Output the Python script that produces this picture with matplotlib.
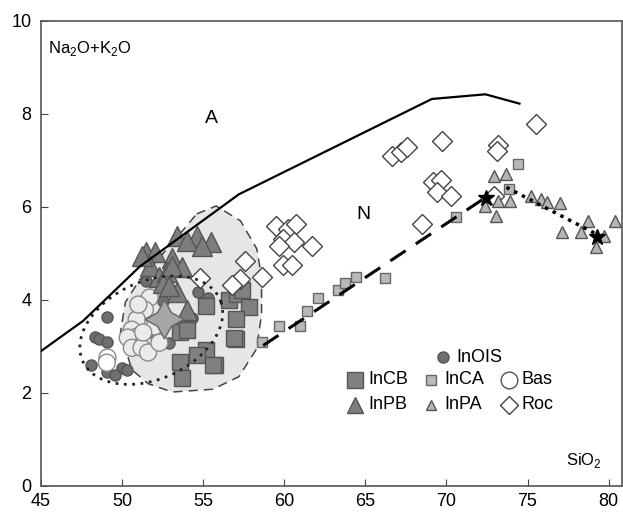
import numpy as np
import matplotlib
matplotlib.use("Agg")
import matplotlib.pyplot as plt
from matplotlib.patches import Polygon

plt.rcParams['font.family'] = ['Liberation Sans', 'DejaVu Sans']

# alkaline / subalkaline boundary
bound_x = [45.0, 47.6, 51.1, 57.2, 69.1, 72.4, 74.5]
bound_y = [2.9, 3.55, 4.72, 6.27, 8.32, 8.42, 8.22]

# InCA trend (dashed) and InPA trend (dotted)
inca_line_x = [58.7, 72.4]
inca_line_y = [3.02, 6.2]
inpa_line_x = [73.7, 79.6]
inpa_line_y = [6.42, 5.35]

# basic field outline (dashed grey area)
field_x = [54.6, 55.8, 57.3, 58.3, 58.6, 58.6, 58.3, 57.2, 55.6, 53.1, 51.6,
           50.6, 49.9, 50.2, 51.1, 52.4, 54.0]
field_y = [5.85, 6.02, 5.7, 5.1, 4.5, 3.7, 2.95, 2.35, 2.08, 2.02, 2.2,
           2.5, 3.3, 3.95, 4.44, 4.95, 5.6]

# InOIS
inois_x = [49.1, 48.3, 48.6, 49.1, 48.1, 49.06, 50.0, 50.3, 49.55, 51.5, 52.75,
           52.6, 54.66, 55.27, 54.29, 53.98, 53.55, 52.9, 51.8, 52.5]
inois_y = [3.64, 3.21, 3.15, 3.1, 2.6, 2.46, 2.54, 2.5, 2.39, 4.4, 4.22,
           4.44, 4.16, 4.05, 3.62, 3.47, 3.5, 3.08, 3.32, 3.97]

# Bas
bas_x = [51.7, 51.4, 50.9, 50.6, 50.9, 50.35, 50.6, 51.2, 51.6, 49.1, 49.06,
         52.0, 52.3, 51.0, 51.3]
bas_y = [4.05, 3.79, 3.58, 3.36, 3.21, 3.19, 2.97, 2.97, 2.87, 2.76, 2.65,
         3.43, 3.08, 3.9, 3.3]
bas_white = [9, 10]

# InPB
inpb_x = [51.5, 52.0, 53.36, 54.6, 55.5, 54.0, 54.9, 53.1, 53.7, 51.7, 52.3,
          52.75, 53.4, 54.0, 51.2, 52.5, 52.9, 53.1]
inpb_y = [5.02, 5.04, 5.37, 5.37, 5.24, 5.26, 5.15, 4.91, 4.7, 4.72, 4.5,
          4.59, 4.16, 3.79, 4.94, 4.37, 4.29, 4.72]

# InCB
incb_x = [56.6, 57.1, 57.85, 57.05, 57.05, 55.2, 53.55, 55.2, 54.6, 55.7,
          53.55, 53.67, 57.4, 54.0, 56.9, 55.6]
incb_y = [4.0, 4.12, 3.84, 3.58, 3.15, 3.86, 3.3, 2.93, 2.82, 2.61,
          2.67, 2.33, 4.22, 3.36, 3.19, 2.61]

# InCA
inca_x = [58.65, 59.7, 61.0, 61.4, 62.1, 63.3, 63.75, 64.4, 66.2, 70.6,
          74.4, 73.85]
inca_y = [3.1, 3.45, 3.45, 3.77, 4.05, 4.22, 4.37, 4.5, 4.48, 5.78,
          6.92, 6.38]

# InPA
inpa_x = [72.9, 73.66, 73.2, 73.9, 72.4, 73.05, 75.2, 75.8, 76.2, 77.0, 77.1,
          78.3, 78.7, 79.25, 79.7, 80.4]
inpa_y = [6.66, 6.7, 6.12, 6.12, 6.01, 5.8, 6.23, 6.16, 6.1, 6.08, 5.47,
          5.45, 5.69, 5.13, 5.37, 5.69]

# Roc
roc_x = [66.65, 67.2, 67.57, 69.7, 73.2, 73.1, 75.5, 69.2, 69.65, 69.4, 70.3,
         68.5, 72.9, 59.5, 60.2, 60.75, 59.9, 60.6, 59.7, 61.7, 59.9, 60.5,
         57.55, 57.24, 54.8, 56.75, 58.65]
roc_y = [7.09, 7.18, 7.28, 7.41, 7.33, 7.2, 7.78, 6.53, 6.57, 6.31, 6.23,
         5.63, 6.23, 5.58, 5.52, 5.63, 5.3, 5.24, 5.15, 5.15, 4.76, 4.76,
         4.83, 4.44, 4.48, 4.33, 4.5]

# stars
star_gray = (52.6, 3.58)
star_black_x = [72.43, 79.3]
star_black_y = [6.19, 5.35]

fig = plt.figure(figsize=(6.23, 5.14), dpi=100)
ax = fig.add_axes([0.0658, 0.0545, 0.932, 0.905])

ax.add_patch(Polygon(np.column_stack([field_x, field_y]), closed=True,
                     facecolor='#e6e6e6', edgecolor='#444444',
                     linestyle=(0, (6, 4)), linewidth=1.1, zorder=1))

# dotted ellipse
t = np.linspace(0, 2 * np.pi, 200)
ex = 51.8 + 4.3 * np.cos(t) - 0.95 * np.sin(t)
ey = 3.35 + 0.6 * np.cos(t) + 1.0 * np.sin(t)
ax.plot(ex, ey, color='#222222', linestyle=(0, (1, 2)), linewidth=2, zorder=6)

dk = '#555555'
ax.plot(inois_x, inois_y, 'o', ms=8, mfc='#6f6f6f', mec=dk, mew=1, zorder=3)
bas_c = ['#ffffff' if i in bas_white else '#ebebeb' for i in range(len(bas_x))]
ax.scatter(bas_x, bas_y, s=150, c=bas_c, edgecolors='#8a8a8a', linewidths=1, zorder=3)
ax.plot(incb_x, incb_y, 's', ms=12, mfc='#808080', mec=dk, mew=1, zorder=3)
ax.plot(inpb_x, inpb_y, '^', ms=14, mfc='#7d7d7d', mec=dk, mew=1, zorder=4)
ax.plot(roc_x, roc_y, 'D', ms=10, mfc='white', mec='#444444', mew=1, zorder=4)
ax.plot(inca_x, inca_y, 's', ms=7, mfc='#b8b8b8', mec='#666666', mew=1, zorder=4)
ax.plot(inpa_x, inpa_y, '^', ms=9, mfc='#b5b5b5', mec='#555555', mew=1, zorder=4)
ax.plot(*star_gray, marker=(4, 1, 0), ms=28, mfc='#a6a6a6', mec='#666666', mew=1, zorder=5)
ax.plot(star_black_x, star_black_y, '*', ms=12, color='black', zorder=7)

ax.plot(bound_x, bound_y, color='black', linewidth=1.6, zorder=6)
ax.plot(inca_line_x, inca_line_y, color='black', linewidth=2.2,
        linestyle=(0, (6, 4)), zorder=6)
ax.plot(inpa_line_x, inpa_line_y, color='black', linewidth=2.5,
        linestyle=(0, (1, 1.5)), zorder=6)

ax.text(55.5, 7.9, 'A', fontsize=14, ha='center', va='center')
ax.text(64.9, 5.84, 'N', fontsize=14, ha='center', va='center')
ax.text(45.45, 9.4, 'Na$_\\mathregular{2}$O+K$_\\mathregular{2}$O', fontsize=12, va='center')
ax.text(79.6, 0.55, 'SiO$_\\mathregular{2}$', fontsize=12, ha='right', va='center')

# legend drawn by hand
leg = [
    (0.693, 0.277, 'o', 8, '#6f6f6f', dk, 'InOIS'),
    (0.541, 0.228, 's', 12, '#808080', dk, 'InCB'),
    (0.672, 0.228, 's', 7, '#b8b8b8', '#666666', 'InCA'),
    (0.806, 0.228, 'o', 12, 'white', '#555555', 'Bas'),
    (0.541, 0.175, '^', 12, '#7d7d7d', dk, 'InPB'),
    (0.672, 0.175, '^', 7, '#b5b5b5', '#555555', 'InPA'),
    (0.806, 0.175, 'D', 9, 'white', '#444444', 'Roc'),
]
for lx, ly, m, s, fc, ec, lab in leg:
    ax.plot(lx, ly, marker=m, ms=s, mfc=fc, mec=ec, mew=1,
            transform=ax.transAxes, zorder=8)
    ax.text(lx + 0.022, ly, lab, fontsize=13, va='center',
            transform=ax.transAxes, zorder=8)

ax.set_xlim(45, 80.8)
ax.set_ylim(0, 10)
ax.set_xticks(np.arange(45, 81, 5))
ax.set_yticks(np.arange(0, 11, 2))
ax.tick_params(direction='in', length=5, labelsize=13, color='#444444')
ax.tick_params(axis='x', pad=5)
ax.tick_params(axis='y', pad=7)
for sp in ax.spines.values():
    sp.set_color('#555555')
    sp.set_linewidth(1.2)

fig.savefig('out.png', dpi=100)
